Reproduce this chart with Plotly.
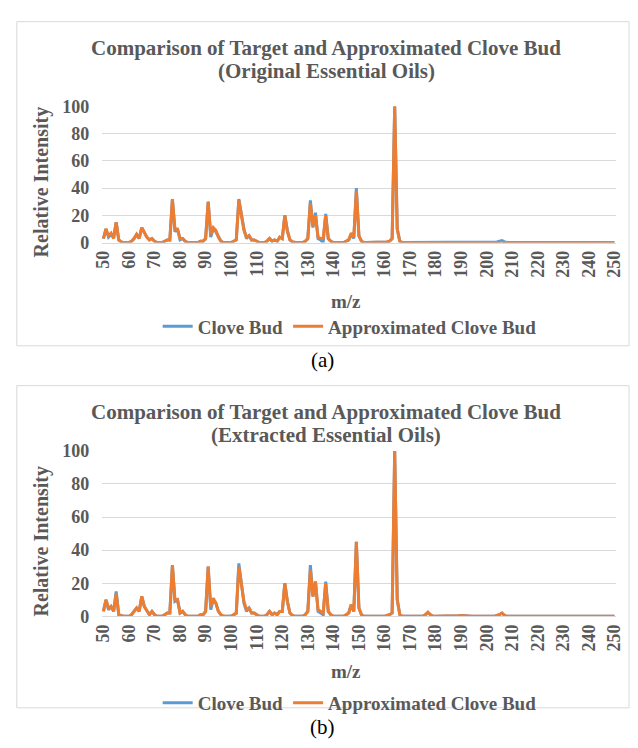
import plotly.graph_objects as go

# ---------------- data ----------------
mz_all = list(range(50, 251))
x_ticks = list(range(50, 251, 10))
y_ticks = [0, 20, 40, 60, 80, 100]

mz_peaks = [50,51,52,53,54,55,56,57,
            61,62,63,64,65,66,67,68,69,70,
            74,75,76,77,78,79,80,81,82,
            88,89,90,91,92,93,94,95,96,
            101,102,103,104,105,106,107,108,109,110,
            114,115,116,117,118,119,120,121,122,123,124,
            129,130,131,132,133,134,135,136,137,138,139,
            145,146,147,148,149,150,151,
            161,162,163,164,165,166,
            176,177,178,
            189,190,191,
            204,205,206,207]

target_a = [3,10,4,6,4,15,2,0.5,
            1,3,6,3,11,7,4,2,3,1,
            1,2,2,32,8,10,2,3,1,
            1,1,3,30,4,10,8,4,1,
            1,2,32,20,10,3,5,2,2,1,
            1,3,1,2,1,4,3,20,9,2,0.5,
            1,3,31,11,22,3,2,0,21,3,1,
            1,2,6,3,40,5,1,
            0.5,1,3,100,10,1,
            0.3,0.5,0.5,
            0.3,0.3,0.3,
            0.5,1,1.5,0.5]

approx_a = [3,10,5,7,3,15,2,0.5,
            1,3,6,3,11,7,4,2,3,1,
            1,2,2,32,10,10,3,3,1,
            1,1,3,30,6,11,9,4,1,
            1,2,31,20,9,4,5,2,2,1,
            1,3,1,2,1,4,3,20,8,2,0.5,
            1,3,29,12,20,4,3,3,20,3,1,
            1,2,7,4,38,5,1,
            0.5,1,3,100,10,1,
            0.3,0.4,0.4,
            0.3,0.3,0.3,
            0.3,0.4,0.5,0.3]

target_b = [3,10,4,6,3,15,1,0.5,
            1,3,5,3,12,6,3,1,3,1,
            1,2,2,31,9,10,2,3,1,
            1,1,3,30,4,10,8,3,1,
            1,2,32,20,8,3,5,2,2,1,
            1,3,1,2,1,3,3,20,9,2,0.5,
            1,3,31,12,21,3,2,1,21,3,1,
            1,2,7,3,45,5,1,
            0.5,1,2,100,10,1,
            1,2,1,
            0.3,0.5,0.3,
            0.5,1,2,0.5]

approx_b = [3,10,5,6,3,14,1,0.5,
            1,3,5,3,12,6,3,1,3,1,
            1,2,2,31,10,10,2,3,1,
            1,1,3,30,6,11,8,3,1,
            1,2,30,20,9,4,5,2,2,1,
            1,3,1,2,1,3,3,20,9,2,0.5,
            1,3,28,12,21,4,3,2,20,3,1,
            1,2,7,3,45,5,1,
            0.5,1,2,100,10,1,
            1,2.5,1,
            0.3,0.5,0.3,
            0.5,1,2,0.5]

def full(values):
    d = dict(zip(mz_peaks, values))
    return [d.get(m, 0) for m in mz_all]

series_a = {"Clove Bud": full(target_a), "Approximated Clove Bud": full(approx_a)}
series_b = {"Clove Bud": full(target_b), "Approximated Clove Bud": full(approx_b)}

# ---------------- style ----------------
W, H = 638, 748
BLUE = "#5B9BD5"
ORANGE = "#ED7D31"
GREY = "#595959"
GRID = "#D9D9D9"
SERIF = "Liberation Serif"

def px(x):
    return x / W

def py(y):
    return 1 - y / H

fig = go.Figure()

panels = [
    dict(series=series_a, xa="x", ya="y", legend="legend",
         y0=239, y100=99,
         titles=[("Comparison of Target and Approximated Clove Bud", 39),
                 ("(Original Essential Oils)", 63)],
         xtitle_y=300, leg_y=325, frame=(8, 12, 637, 345), cap="(a)", cap_y=360),
    dict(series=series_b, xa="x2", ya="y2", legend="legend2",
         y0=623, y100=453,
         titles=[("Comparison of Target and Approximated Clove Bud", 413),
                 ("(Extracted Essential Oils)", 437)],
         xtitle_y=680, leg_y=712, frame=(8, 386, 637, 717), cap="(b)", cap_y=737),
]

colors = {"Clove Bud": BLUE, "Approximated Clove Bud": ORANGE}

x_lo, x_hi = 49.4, 250.6
ppu = (622 - 97) / 200.0
dom_l = 97 - (50 - x_lo) * ppu
dom_r = 622 + (x_hi - 250) * ppu

layout_axes = {}
annotations = []
shapes = []
for i, p in enumerate(panels):
    for name, vals in p["series"].items():
        fig.add_trace(go.Scatter(
            x=mz_all, y=vals, mode="lines", name=name,
            line=dict(color=colors[name], width=3),
            xaxis=p["xa"], yaxis=p["ya"], legend=p["legend"],
        ))
    suffix = "" if i == 0 else "2"
    layout_axes["xaxis" + suffix] = dict(
        domain=[px(dom_l), px(dom_r)], range=[x_lo, x_hi],
        tickmode="array", tickvals=x_ticks, ticktext=[str(t) for t in x_ticks],
        tickangle=-90, showgrid=False, zeroline=False,
        showline=True, linecolor=GRID, linewidth=1,
        tickfont=dict(family=SERIF, size=18, color=GREY, weight="bold"),
        anchor="y" + suffix, fixedrange=True, ticks="",
    )
    layout_axes["yaxis" + suffix] = dict(
        domain=[py(p["y0"]), py(p["y100"])], range=[0, 100],
        tickmode="array", tickvals=y_ticks,
        showgrid=True, gridcolor=GRID, gridwidth=1, zeroline=False,
        showline=False, ticks="outside", ticklen=8, tickcolor="rgba(0,0,0,0)",
        tickfont=dict(family=SERIF, size=18, color=GREY, weight="bold"),
        anchor="x" + suffix, fixedrange=True,
    )
    for txt, ty in p["titles"]:
        annotations.append(dict(
            text=txt, x=px(326), y=py(ty), xref="paper", yref="paper",
            showarrow=False, xanchor="center", yanchor="middle",
            font=dict(family=SERIF, size=21, color=GREY, weight="bold"),
        ))
    annotations.append(dict(
        text="m/z", x=px(346), y=py(p["xtitle_y"]), xref="paper", yref="paper",
        showarrow=False, xanchor="center", yanchor="middle",
        font=dict(family=SERIF, size=19, color=GREY, weight="bold"),
    ))
    annotations.append(dict(
        text="Relative Intensity", x=px(33), y=py((p["y0"] + p["y100"]) / 2 + 8),
        xref="paper", yref="paper", textangle=-90,
        showarrow=False, xanchor="center", yanchor="middle",
        font=dict(family=SERIF, size=20, color=GREY, weight="bold"),
    ))
    annotations.append(dict(
        text=p["cap"], x=px(322), y=py(p["cap_y"]), xref="paper", yref="paper",
        showarrow=False, xanchor="center", yanchor="middle",
        font=dict(family=SERIF, size=21, color="#000000"),
    ))
    fx0, fy0, fx1, fy1 = p["frame"]
    shapes.append(dict(type="rect", xref="paper", yref="paper",
                       x0=px(fx0), x1=px(fx1), y0=py(fy1), y1=py(fy0),
                       line=dict(color=GRID, width=1)))

leg_common = dict(orientation="h", xanchor="center", yanchor="middle",
                  font=dict(family=SERIF, size=19, color=GREY, weight="bold"),
                  bgcolor="rgba(0,0,0,0)", itemwidth=30, tracegroupgap=0)

fig.update_layout(
    width=W, height=H, margin=dict(l=0, r=0, t=0, b=0),
    paper_bgcolor="white", plot_bgcolor="white",
    showlegend=True,
    legend=dict(x=px(350), y=py(panels[0]["leg_y"]), **leg_common),
    legend2=dict(x=px(350), y=py(panels[1]["leg_y"]), **leg_common),
    annotations=annotations, shapes=shapes,
    **layout_axes,
)

fig.write_html("out.html")
